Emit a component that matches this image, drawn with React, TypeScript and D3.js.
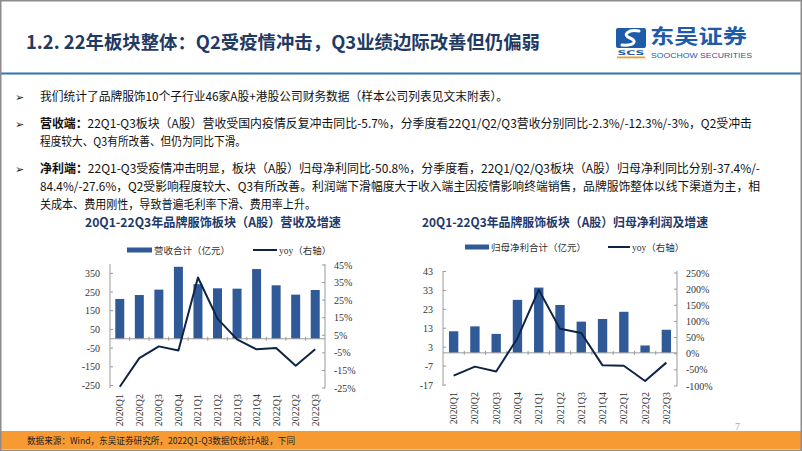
import React from 'react';
import * as d3 from 'd3';

const categories = ['2020Q1','2020Q2','2020Q3','2020Q4','2021Q1','2021Q2','2021Q3','2021Q4','2022Q1','2022Q2','2022Q3'];
const revenue = [213, 234, 263, 385, 292, 270, 268, 373, 286, 236, 261];
const revenueYoy = [-24.3, -8.0, -1.3, -3.6, 37.9, 14.5, 2.7, -3.0, -2.3, -12.3, -3.0];
const profit = [11.4, 14.0, 10.0, 28.0, 34.5, 25.3, 16.5, 17.9, 21.7, 3.9, 12.2];
const profitYoy = [-68, -40, -55, 48, 198, 77, 64, -36, -37.4, -84.4, -27.6];

const revTicks = [-250, -150, -50, 50, 150, 250, 350];
const revYoyTicks = [-25, -15, -5, 5, 15, 25, 35, 45];
const profitTicks = [-17, -7, 3, 13, 23, 33, 43];
const profitYoyTicks = [-100, -50, 0, 50, 100, 150, 200, 250];

const BAR = '#2F5A97';
const LINE = '#0F2445';
const AXIS = '#9A9A9A';
const SERIF = '"Liberation Serif", "Times New Roman", "Noto Sans CJK SC", serif';
const SANS = '"Noto Sans CJK SC", "Microsoft YaHei", sans-serif';

type ChartProps = {
  x0: number; x1: number; top: number; bottom: number;
  bars: number[]; line: number[];
  lDomain: [number, number]; lRange: [number, number];
  rDomain: [number, number]; rRange: [number, number];
  lTicks: number[]; rTicks: number[];
  pad: number;
};

function Chart(p: ChartProps) {
  const x = d3.scaleBand<string>().domain(categories).range([p.x0, p.x1]).paddingInner(p.pad).paddingOuter(p.pad / 2);
  const yl = d3.scaleLinear().domain(p.lDomain).range(p.lRange);
  const yr = d3.scaleLinear().domain(p.rDomain).range(p.rRange);
  const lineGen = d3.line<number>().x((_, i) => (x(categories[i]) as number) + x.bandwidth() / 2).y(d => yr(d));
  const z = yl(0);
  const step = x.step();
  return (
    <g>
      {p.bars.map((v, i) => (
        <rect key={i} x={x(categories[i])} width={x.bandwidth()} y={Math.min(yl(v), z)} height={Math.abs(yl(v) - z)} fill={BAR} />
      ))}
      <line x1={p.x0} x2={p.x1} y1={z} y2={z} stroke={AXIS} strokeWidth={1} />
      {d3.range(1, categories.length).map(i => {
        const xx = (x(categories[i]) as number) - (step - x.bandwidth()) / 2;
        return <line key={i} x1={xx} x2={xx} y1={z - 2} y2={z + 2} stroke={AXIS} strokeWidth={1} />;
      })}
      <line x1={p.x0} x2={p.x0} y1={p.top} y2={p.bottom} stroke={AXIS} strokeWidth={1} />
      <line x1={p.x1} x2={p.x1} y1={p.top} y2={p.bottom} stroke={AXIS} strokeWidth={1} />
      {p.lTicks.map(t => (
        <g key={t}>
          <line x1={p.x0} x2={p.x0 + 3} y1={yl(t)} y2={yl(t)} stroke={AXIS} />
          <text x={p.x0 - 10} y={yl(t) + 3.5} textAnchor="end" fontFamily={SERIF} fontSize={10} fill="#333">{t}</text>
        </g>
      ))}
      {p.rTicks.map(t => (
        <g key={t}>
          <line x1={p.x1 - 3} x2={p.x1} y1={yr(t)} y2={yr(t)} stroke={AXIS} />
          <text x={p.x1 + 9} y={yr(t) + 3.5} textAnchor="start" fontFamily={SERIF} fontSize={10} fill="#333">{t + '%'}</text>
        </g>
      ))}
      <path d={lineGen(p.line) || ''} fill="none" stroke={LINE} strokeWidth={2} strokeLinejoin="round" />
      {categories.map(c => {
        const cx = (x(c) as number) + x.bandwidth() / 2 + 3.5;
        const ty = p.bottom + 6;
        return (
          <text key={c} x={cx} y={ty} transform={`rotate(-90 ${cx} ${ty})`} textAnchor="end" fontFamily={SERIF} fontSize={10} fill="#333">{c}</text>
        );
      })}
    </g>
  );
}

export default function App() {
  return (
    <svg width={802} height={451} viewBox="0 0 802 451" style={{ position: 'absolute', left: 0, top: 0, background: '#fff' }}>
      <rect x={0} y={0} width={802} height={451} fill="#fff" />
      {/* header */}
      <text x={26} y={49} fontFamily={SANS} fontWeight="bold" fontSize={18} fill="#1F3A63" textLength={514} lengthAdjust="spacingAndGlyphs">1.2. 22年板块整体：Q2受疫情冲击，Q3业绩边际改善但仍偏弱</text>
      {/* logo */}
      <g>
        <rect x={616} y={28} width={30} height={20} rx={2} fill="#1E5BA8" />
        <path d="M639,31 C628,29 622,35 630,38 C638,41 634,46 622,45" fill="none" stroke="#fff" strokeWidth={3} strokeLinecap="round" />
        <text x={631} y={55} textAnchor="middle" fontFamily='"DejaVu Sans", sans-serif' fontWeight="bold" fontSize={6.5} fill="#1E5BA8" textLength={27} lengthAdjust="spacingAndGlyphs">SCS</text>
        <rect x={617} y={56.5} width={28} height={1.8} fill="#F39A2B" />
        <text x={650} y={44} fontFamily={SANS} fontWeight="bold" fontSize={20} fill="#1E5BA8" textLength={97} lengthAdjust="spacingAndGlyphs">东吴证券</text>
        <text x={651} y={57.5} fontFamily='"Liberation Sans", Arial, sans-serif' fontSize={7.5} fill="#1E5BA8" textLength={101} lengthAdjust="spacingAndGlyphs">SOOCHOW SECURITIES</text>
      </g>
      <rect x={1} y={72.5} width={800} height={2} fill="#2E75B6" />
      {/* bullets */}
      <g fontFamily={SANS} fontSize={12} fill="#111">
        {[97, 124, 169].map(y => (
          <text key={y} x={15} y={y + 4} fontFamily='"DejaVu Sans", sans-serif' fontSize={11} fill="#222">➢</text>
        ))}
        <text x={40} y={101} textLength={468} lengthAdjust="spacingAndGlyphs">我们统计了品牌服饰10个子行业46家A股+港股公司财务数据（样本公司列表见文末附表）。</text>
        <text x={40} y={128} textLength={712} lengthAdjust="spacingAndGlyphs"><tspan fontWeight="bold">营收端：</tspan>22Q1-Q3板块（A股）营收受国内疫情反复冲击同比-5.7%，分季度看22Q1/Q2/Q3营收分别同比-2.3%/-12.3%/-3%，Q2受冲击</text>
        <text x={40} y={146} textLength={206} lengthAdjust="spacingAndGlyphs">程度较大、Q3有所改善、但仍为同比下滑。</text>
        <text x={40} y={173} textLength={720} lengthAdjust="spacingAndGlyphs"><tspan fontWeight="bold">净利端：</tspan>22Q1-Q3受疫情冲击明显，板块（A股）归母净利同比-50.8%，分季度看，22Q1/Q2/Q3板块（A股）归母净利同比分别-37.4%/-</text>
        <text x={40} y={191} textLength={720} lengthAdjust="spacingAndGlyphs">84.4%/-27.6%，Q2受影响程度较大、Q3有所改善。利润端下滑幅度大于收入端主因疫情影响终端销售，品牌服饰整体以线下渠道为主，相</text>
        <text x={40} y={209} textLength={276} lengthAdjust="spacingAndGlyphs">关成本、费用刚性，导致普遍毛利率下滑、费用率上升。</text>
      </g>
      {/* chart titles */}
      <text x={85} y={227} fontFamily={SANS} fontWeight="bold" fontSize={12.5} fill="#1F3A68" textLength={256} lengthAdjust="spacingAndGlyphs">20Q1-22Q3年品牌服饰板块（A股）营收及增速</text>
      <text x={422} y={227} fontFamily={SANS} fontWeight="bold" fontSize={12.5} fill="#1F3A68" textLength={286} lengthAdjust="spacingAndGlyphs">20Q1-22Q3年品牌服饰板块（A股）归母净利润及增速</text>
      {/* legends */}
      <rect x={127} y={247.5} width={25} height={5} fill={BAR} />
      <text x={154} y={253.5} fontFamily={SERIF} fontSize={9.5} fill="#333">营收合计（亿元）</text>
      <line x1={253} x2={277} y1={250} y2={250} stroke={LINE} strokeWidth={2} />
      <text x={279} y={253.5} fontFamily={SERIF} fontSize={9.5} fill="#333">yoy（右轴）</text>
      <rect x={465} y={244.5} width={24} height={5} fill={BAR} />
      <text x={491} y={250.5} fontFamily={SERIF} fontSize={9.5} fill="#333">归母净利合计（亿元）</text>
      <line x1={608} x2={630} y1={247} y2={247} stroke={LINE} strokeWidth={2} />
      <text x={632} y={250.5} fontFamily={SERIF} fontSize={9.5} fill="#333">yoy（右轴）</text>
      {/* charts */}
      <Chart x0={110} x1={325} top={264} bottom={388} bars={revenue} line={revenueYoy}
        lDomain={[-250, 400]} lRange={[385.5, 264]} rDomain={[-25, 45]} rRange={[388, 265]}
        lTicks={revTicks} rTicks={revYoyTicks} pad={0.54} />
      <Chart x0={443} x1={677} top={271} bottom={386} bars={profit} line={profitYoy}
        lDomain={[-17, 43]} lRange={[385, 271.5]} rDomain={[-100, 250]} rRange={[386, 273]}
        lTicks={profitTicks} rTicks={profitYoyTicks} pad={0.56} />
      {/* footer */}
      <text x={735} y={430} fontFamily={SERIF} fontSize={10} fill="#aaa">7</text>
      <rect x={1} y={431} width={800} height={18} fill="#F79A32" />
      <text x={27} y={443.5} fontFamily={SANS} fontSize={9} fill="#222" textLength={268} lengthAdjust="spacingAndGlyphs">数据来源：Wind，东吴证券研究所，2022Q1-Q3数据仅统计A股，下同</text>
      <rect x={0.75} y={0.75} width={800.5} height={449.5} fill="none" stroke="#8C8C8C" strokeWidth={1.5} />
    </svg>
  );
}
